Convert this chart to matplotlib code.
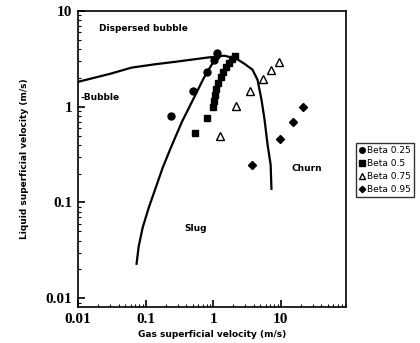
import matplotlib
matplotlib.use('Agg')
import matplotlib.pyplot as plt
from matplotlib.ticker import LogLocator, NullFormatter, FixedLocator, FixedFormatter

# data (m/s)
beta25_x = [0.24, 0.50, 0.81, 1.03, 1.15]
beta25_y = [0.80, 1.47, 2.32, 3.10, 3.67]

beta50_x = [0.54, 0.81, 1.00, 1.03, 1.07, 1.11, 1.19, 1.32, 1.41, 1.56, 1.73, 1.92, 2.13]
beta50_y = [0.535, 0.77, 1.00, 1.16, 1.33, 1.54, 1.78, 2.06, 2.32, 2.62, 2.88, 3.17, 3.41]

beta75_x = [1.27, 2.2, 3.57, 5.4, 7.1, 9.3]
beta75_y = [0.50, 1.02, 1.47, 1.96, 2.44, 2.95]

beta95_x = [3.82, 9.7, 15.1, 21.3]
beta95_y = [0.248, 0.46, 0.70, 1.00]

# transition boundaries
upper_x = [0.01, 0.03, 0.0618, 0.14, 0.28, 0.79, 1.46, 2.2, 2.9, 3.82, 4.54, 5.2, 5.77, 6.4, 7.1, 7.3]
upper_y = [1.82, 2.21, 2.56, 2.78, 2.95, 3.25, 3.41, 3.18, 2.81, 2.44, 1.91, 1.18, 0.73, 0.40, 0.248, 0.139]

slug_x = [0.0734, 0.0787, 0.0902, 0.111, 0.141, 0.179, 0.236, 0.345, 0.52, 0.73, 0.97, 1.23]
slug_y = [0.0229, 0.0344, 0.0544, 0.088, 0.1425, 0.231, 0.373, 0.697, 1.24, 2.01, 2.81, 3.25]

labels = ['Beta 0.25', 'Beta 0.5', 'Beta 0.75', 'Beta 0.95']
tick_vals = [0.01, 0.1, 1, 10]
tick_text = ['0.01', '0.1', '1', '10']

narrow = ['Liberation Sans Narrow', 'DejaVu Sans']

fig = plt.figure(figsize=(4.2, 3.43), dpi=100)
ax = fig.add_axes([0.186, 0.105, 0.638, 0.863])

ax.plot(upper_x, upper_y, 'k-', lw=1.6)
ax.plot(slug_x, slug_y, 'k-', lw=1.6)

h1, = ax.plot(beta25_x, beta25_y, 'o', color='k', ms=5, ls='none')
h2, = ax.plot(beta50_x, beta50_y, 's', color='k', ms=4.8, ls='none')
h3, = ax.plot(beta75_x, beta75_y, '^', mfc='white', mec='k', mew=1.0, ms=6, ls='none')
h4, = ax.plot(beta95_x, beta95_y, 'D', color='k', ms=4, ls='none')

ax.set_xscale('log')
ax.set_yscale('log')
ax.set_xlim(0.01, 93)
ax.set_ylim(0.0081, 10)

for axis in (ax.xaxis, ax.yaxis):
    axis.set_major_locator(FixedLocator(tick_vals))
    axis.set_major_formatter(FixedFormatter(tick_text))
    axis.set_minor_locator(LogLocator(base=10, subs=range(2, 10)))
    axis.set_minor_formatter(NullFormatter())

ax.tick_params(which='both', direction='in', top=False, right=False)
ax.tick_params(which='major', length=5, width=1.2, labelsize=11, pad=4)
ax.tick_params(which='minor', length=2.5, width=0.8)
for lab in ax.get_xticklabels() + ax.get_yticklabels():
    lab.set_fontfamily('Liberation Serif')
    lab.set_fontweight('bold')
for sp in ax.spines.values():
    sp.set_linewidth(1.2)

ax.text(0.093, 6.5, 'Dispersed bubble', ha='center', va='center',
        family=narrow, fontweight='bold', fontsize=6.5)
ax.text(0.0107, 1.24, '-Bubble', ha='left', va='center',
        family=narrow, fontweight='bold', fontsize=6.5)
ax.text(0.557, 0.053, 'Slug', ha='center', va='center',
        family=narrow, fontweight='bold', fontsize=6.5)
ax.text(24.4, 0.225, 'Churn', ha='center', va='center',
        family=narrow, fontweight='bold', fontsize=6.5)

ax.set_xlabel('Gas superficial velocity (m/s)', family=narrow,
              fontweight='bold', fontsize=6.5, labelpad=3)
ax.set_ylabel('Liquid superficial velocity (m/s)', family=narrow,
              fontweight='bold', fontsize=6.5, labelpad=12)

fig.legend([h1, h2, h3, h4], labels, loc='center left',
           bbox_to_anchor=(0.848, 0.505), fontsize=6.5, frameon=True,
           fancybox=False, edgecolor='k', handlelength=0.6,
           handletextpad=0.3, borderpad=0.35, labelspacing=0.45,
           borderaxespad=0, markerscale=0.8)

fig.savefig('out.png', dpi=100)
